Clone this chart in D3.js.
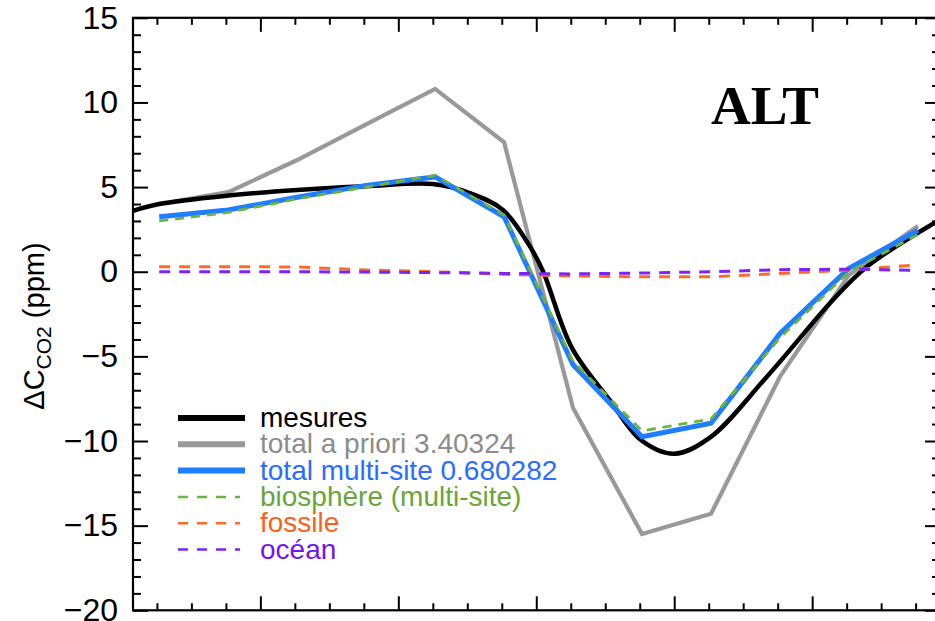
<!DOCTYPE html>
<html>
<head>
<meta charset="utf-8">
<script src="https://cdn.jsdelivr.net/npm/d3@7"></script>
<style>
  body { margin: 0; background: #fff; }
  svg { display: block; font-family: "Liberation Sans", Arial, sans-serif; }
</style>
</head>
<body>
<div id="chart"></div>
<script>
// monthly model values (day of year at mid-month)
const days = [16, 46, 76, 106, 136, 166, 196, 226, 256, 286, 316, 346];
const aPriori = [4.0, 4.7, 6.6, 8.7, 10.8, 7.65, -8.05, -15.5, -14.3, -6.2, -0.2, 2.7];
const multiSite = [3.25, 3.65, 4.4, 5.1, 5.6, 3.25, -5.5, -9.75, -8.95, -3.65, 0.2, 2.45];
const biosphere = [3.0, 3.5, 4.3, 5.0, 5.7, 3.35, -5.3, -9.4, -8.7, -3.9, 0.0, 2.2];
const fossile = [0.3, 0.3, 0.28, 0.1, 0.0, -0.15, -0.25, -0.3, -0.3, -0.1, 0.1, 0.4];
const ocean = [0.0, 0.0, 0.0, -0.02, -0.05, -0.1, -0.13, -0.08, 0.0, 0.12, 0.15, 0.08];

// measured curve (smooth)
const measDays = [4.6, 16, 46, 76, 106, 135, 151, 165.5, 177.3, 183, 195.5, 212, 225.5, 240, 255.5, 280.3, 309, 323.8, 356];
const measures = [3.6, 4.0, 4.5, 4.83, 5.05, 5.18, 4.65, 3.65, 1.48, 0, -4.5, -7.6, -9.94, -10.75, -9.8, -6.2, -1.67, 0.3, 3.1];

const yTicks = [-20, -15, -10, -5, 0, 5, 10, 15];
const xMajor = [60, 120, 180, 240, 300];

const width = 935;
const height = 621;
const plot = {left: 133, right: 940, top: 17.8, bottom: 610.3};

const x = d3.scaleLinear().domain([4.6, 355.6]).range([plot.left, plot.right]);
const y = d3.scaleLinear().domain([-20, 15]).range([plot.bottom, plot.top]);

const svg = d3.select('#chart').append('svg')
    .attr('width', width).attr('height', height);

svg.append('clipPath').attr('id', 'clip')
  .append('rect')
    .attr('x', plot.left).attr('y', plot.top)
    .attr('width', plot.right - plot.left).attr('height', plot.bottom - plot.top);

// axes
const xMinor = d3.range(15, 355, 15).filter(d => xMajor.indexOf(d) < 0);
const yMinor = d3.range(-20, 15, 1).filter(d => d % 5 !== 0);

const tickStyle = g => g
    .call(g => g.select('.domain').remove())
    .call(g => g.selectAll('.tick line').attr('stroke', '#000').attr('stroke-width', 2));

svg.append('g')
    .attr('transform', `translate(${plot.left},0)`)
    .call(d3.axisLeft(y).tickValues(yTicks).tickSize(-15).tickPadding(15))
    .call(tickStyle)
    .call(g => g.selectAll('text').attr('font-size', 32).attr('fill', '#000')
        .style('font-family', '"Liberation Sans", Arial, sans-serif'));
svg.append('g')
    .attr('transform', `translate(${plot.left},0)`)
    .call(d3.axisLeft(y).tickValues(yMinor).tickSize(-8).tickFormat(''))
    .call(tickStyle);
svg.append('g')
    .attr('transform', `translate(${plot.right},0)`)
    .call(d3.axisRight(y).tickValues(yTicks).tickSize(-15).tickFormat(''))
    .call(tickStyle);
svg.append('g')
    .attr('transform', `translate(${plot.right},0)`)
    .call(d3.axisRight(y).tickValues(yMinor).tickSize(-8).tickFormat(''))
    .call(tickStyle);

svg.append('g')
    .attr('transform', `translate(0,${plot.bottom})`)
    .call(d3.axisBottom(x).tickValues(xMajor).tickSize(-14).tickFormat(''))
    .call(tickStyle);
svg.append('g')
    .attr('transform', `translate(0,${plot.bottom})`)
    .call(d3.axisBottom(x).tickValues(xMinor).tickSize(-7).tickFormat(''))
    .call(tickStyle);
svg.append('g')
    .attr('transform', `translate(0,${plot.top})`)
    .call(d3.axisTop(x).tickValues(xMajor).tickSize(-14).tickFormat(''))
    .call(tickStyle);
svg.append('g')
    .attr('transform', `translate(0,${plot.top})`)
    .call(d3.axisTop(x).tickValues(xMinor).tickSize(-7).tickFormat(''))
    .call(tickStyle);

svg.append('rect')
    .attr('x', plot.left).attr('y', plot.top)
    .attr('width', plot.right - plot.left).attr('height', plot.bottom - plot.top)
    .attr('fill', 'none').attr('stroke', '#000').attr('stroke-width', 2.2);

// y label
const ylab = svg.append('text')
    .attr('transform', `translate(44,${(plot.top + plot.bottom) / 2 + 12}) rotate(-90)`)
    .attr('text-anchor', 'middle')
    .attr('font-size', 29)
    .attr('fill', '#000');
ylab.append('tspan').text('ΔC');
ylab.append('tspan').attr('font-size', 21).attr('dy', 7).text('CO2');
ylab.append('tspan').attr('dy', -7).text(' (ppm)');

// station name
svg.append('text')
    .attr('x', 711).attr('y', 124)
    .style('font-family', '"Liberation Serif", "Times New Roman", serif')
    .attr('font-weight', 'bold')
    .attr('font-size', 55)
    .text('ALT');

// series
const series = [
  {name: 'mesures', xs: measDays, ys: measures, color: '#000000', text: '#000000', width: 4.5, dash: null, curve: d3.curveCatmullRom},
  {name: 'total a priori 3.40324', xs: days, ys: aPriori, color: '#999999', text: '#8c8c8c', width: 4.2, dash: null, curve: d3.curveLinear},
  {name: 'total multi-site 0.680282', xs: days, ys: multiSite, color: '#1f7dff', text: '#2a6cff', width: 5, dash: null, curve: d3.curveLinear},
  {name: 'biosphère (multi-site)', xs: days, ys: biosphere, color: '#6cb33f', text: '#6aa539', width: 2.8, dash: '9,7', curve: d3.curveLinear},
  {name: 'fossile', xs: days, ys: fossile, color: '#ff6a25', text: '#ff5f1a', width: 3, dash: '11,9', curve: d3.curveLinear},
  {name: 'océan', xs: days, ys: ocean, color: '#7f22f5', text: '#7414ec', width: 3, dash: '11,9', curve: d3.curveLinear}
];

const lines = svg.append('g').attr('clip-path', 'url(#clip)');
const drawOrder = [1, 0, 2, 3, 4, 5];
for (const i of drawOrder) {
  const s = series[i];
  const line = d3.line()
      .x((d, j) => x(s.xs[j]))
      .y(d => y(d))
      .curve(s.curve);
  lines.append('path')
      .datum(s.ys)
      .attr('d', line)
      .attr('fill', 'none')
      .attr('stroke', s.color)
      .attr('stroke-width', s.width)
      .attr('stroke-dasharray', s.dash)
      .attr('stroke-linejoin', 'miter');
}

// legend
const legend = svg.append('g').attr('transform', 'translate(178,418)');
const rowH = 26.3;
series.forEach((s, i) => {
  const g = legend.append('g').attr('transform', `translate(0,${i * rowH})`);
  g.append('line')
      .attr('x1', 0).attr('x2', s.dash ? 62 : 67)
      .attr('y1', 0).attr('y2', 0)
      .attr('stroke', s.color)
      .attr('stroke-width', s.dash ? 2.5 : 6)
      .attr('stroke-dasharray', s.dash ? '10,9' : null);
  g.append('text')
      .attr('x', 82).attr('y', 9)
      .attr('font-size', 28)
      .attr('fill', s.text)
      .text(s.name);
});
</script>
</body>
</html>
